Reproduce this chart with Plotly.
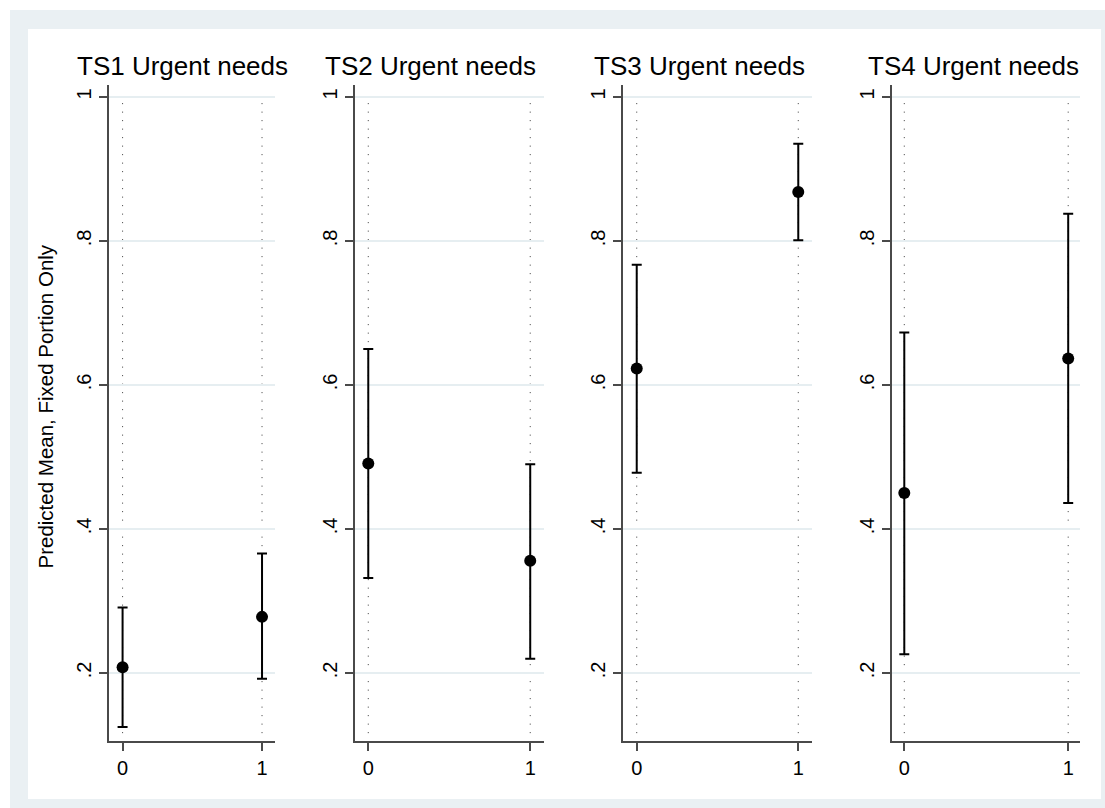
import plotly.graph_objects as go

# Predicted means with 95% confidence limits, by group (0/1), for each time slice
groups = [0, 1]
panel_titles = ["TS1 Urgent needs", "TS2 Urgent needs", "TS3 Urgent needs", "TS4 Urgent needs"]
ts1_mean = [0.208, 0.278]
ts1_lo = [0.125, 0.192]
ts1_hi = [0.291, 0.366]
ts2_mean = [0.491, 0.356]
ts2_lo = [0.332, 0.220]
ts2_hi = [0.650, 0.490]
ts3_mean = [0.623, 0.868]
ts3_lo = [0.478, 0.801]
ts3_hi = [0.767, 0.935]
ts4_mean = [0.450, 0.637]
ts4_lo = [0.226, 0.436]
ts4_hi = [0.673, 0.838]
y_ticks = [0.2, 0.4, 0.6, 0.8, 1.0]
y_tick_labels = [".2", ".4", ".6", ".8", "1"]
x_tick_labels = ["0", "1"]
y_title = "Predicted Mean, Fixed Portion Only"

W, H = 1105, 808
FONT = "Liberation Sans, Arial, sans-serif"
BAND = "#EAF0F3"
GRID = "#E6EEF1"
AXIS = "#4a4a4a"

means = [ts1_mean, ts2_mean, ts3_mean, ts4_mean]
los = [ts1_lo, ts2_lo, ts3_lo, ts4_lo]
his = [ts1_hi, ts2_hi, ts3_hi, ts4_hi]

# panel placement in pixels (left, right of the plotting area) and x ranges
panel_px = [(108.5, 275.0), (354.5, 544.0), (623.0, 812.0), (891.5, 1080.0)]
x_ranges = [[-0.101, 1.093], [-0.085, 1.085], [-0.085, 1.085], [-0.078, 1.072]]
title_cx = [182.0, 430.0, 699.5, 973.8]
y_top_px, y_bot_px = 85.0, 741.0
y_range = [0.1056, 1.0167]

fig = go.Figure()
layout = dict(
    width=W, height=H,
    margin=dict(l=0, r=0, t=0, b=0),
    paper_bgcolor="white",
    plot_bgcolor="rgba(0,0,0,0)",
    showlegend=False,
    font=dict(family=FONT, color="black"),
    shapes=[], annotations=[],
)

# outer band and inner white region
layout["shapes"].append(dict(type="rect", xref="paper", yref="paper",
                             x0=10 / W, x1=1.0, y0=0.0, y1=1 - 10 / H,
                             fillcolor=BAND, line=dict(width=0), layer="below"))
layout["shapes"].append(dict(type="rect", xref="paper", yref="paper",
                             x0=28 / W, x1=1101 / W, y0=1 - 799 / H, y1=1 - 29 / H,
                             fillcolor="white", line=dict(width=0), layer="below"))

ydom = [1 - y_bot_px / H, 1 - y_top_px / H]

for i in range(4):
    n = "" if i == 0 else str(i + 1)
    xa, ya = "x" + n, "y" + n
    left, right = panel_px[i]
    layout["xaxis" + n] = dict(
        domain=[left / W, right / W], range=x_ranges[i], anchor=ya,
        tickmode="array", tickvals=groups, ticktext=x_tick_labels,
        ticks="outside", ticklen=8, tickwidth=1.5, tickcolor=AXIS,
        showline=True, linecolor=AXIS, linewidth=2, showgrid=False,
        zeroline=False, tickfont=dict(size=20, family=FONT, color="black"),
        fixedrange=True,
    )
    layout["yaxis" + n] = dict(
        domain=ydom, range=y_range, anchor=xa,
        tickmode="array", tickvals=y_ticks, ticktext=y_tick_labels,
        tickangle=-90, ticks="outside", ticklen=8, tickwidth=1.5, tickcolor=AXIS,
        showline=True, linecolor=AXIS, linewidth=2,
        showgrid=True, gridcolor=GRID, gridwidth=1.5,
        zeroline=False, tickfont=dict(size=20, family=FONT, color="black"),
        fixedrange=True,
    )
    # dotted reference lines at each group
    for g in groups:
        layout["shapes"].append(dict(
            type="line", xref=xa, yref=ya + " domain",
            x0=g, x1=g, y0=0.012, y1=0.975,
            line=dict(color="#3a3a3a", width=1, dash="1px,7.5px"), layer="below"))
    # panel title
    layout["annotations"].append(dict(
        text=panel_titles[i], xref="paper", yref="paper",
        x=title_cx[i] / W, y=1 - 66 / H, xanchor="center", yanchor="middle",
        showarrow=False, font=dict(size=26, family=FONT, color="black")))

    m, lo, hi = means[i], los[i], his[i]
    fig.add_trace(go.Scatter(
        x=groups, y=m, xaxis=xa, yaxis=ya, mode="markers",
        marker=dict(size=12, color="black"),
        error_y=dict(type="data", symmetric=False,
                     array=[h - v for h, v in zip(hi, m)],
                     arrayminus=[v - l for v, l in zip(m, lo)],
                     color="black", thickness=2, width=5),
        hoverinfo="skip",
    ))

layout["annotations"].append(dict(
    text=y_title, xref="paper", yref="paper",
    x=45 / W, y=1 - 406.5 / H, xanchor="center", yanchor="middle",
    textangle=-90, showarrow=False, font=dict(size=20.5, family=FONT, color="black")))

fig.update_layout(**layout)
fig.write_html("out.html")
